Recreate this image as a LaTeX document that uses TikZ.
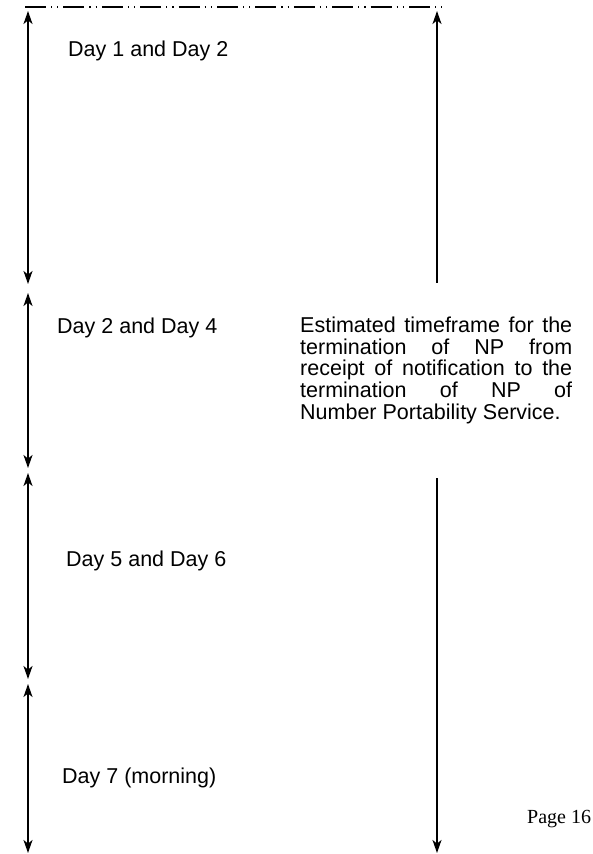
\documentclass[tikz,border=0pt]{standalone}
\usepackage{fontspec}
\setmainfont{Liberation Sans}
\newfontfamily\pagefont{Liberation Serif}
\usetikzlibrary{arrows.meta}

\tikzset{
  tip/.tip={Stealth[length=13pt,width=9pt,inset=3.5pt]},
  span/.style={line width=1.4pt, tip-tip},
  daylabel/.style={anchor=west, inner sep=0pt, font=\fontsize{21.5}{22}\selectfont},
}

\begin{document}
\begin{tikzpicture}
[x = 1pt,
y = -1pt]
\useasboundingbox (0,0) rectangle (592,854);

% cut-off line at the top
\draw[line width=1.5pt, dash pattern=on 21pt off 5pt on 1.2pt off 5pt on 1.2pt off 5pt] (25,7) -- (446,7);

% left column: one double arrow per pair of days
\coordinate (a1) at (28,11);  \coordinate (b1) at (28,284);
\coordinate (a2) at (28,293); \coordinate (b2) at (28,468);
\coordinate (a3) at (28,473); \coordinate (b3) at (28,679);
\coordinate (a4) at (28,684); \coordinate (b4) at (28,853);
\draw[span] (a1) -- (b1);
\draw[span] (a2) -- (b2);
\draw[span] (a3) -- (b3);
\draw[span] (a4) -- (b4);

% right column: whole timeframe
\coordinate (rtop) at (437,11);  \coordinate (rmid1) at (437,283);
\coordinate (rmid2) at (437,478); \coordinate (rbot) at (437,853);
\draw[line width=1.4pt, tip-] (rtop) -- (rmid1);
\draw[line width=1.4pt, -tip] (rmid2) -- (rbot);

\node[daylabel] (d12) at (68,51) {Day 1 and Day 2};
\node[daylabel] (d24) at (57,328) {Day 2 and Day 4};
\node[daylabel] (d56) at (66,561) {Day 5 and Day 6};
\node[daylabel] (d7) at (62,778) {Day 7 (morning)};

\node[anchor=north west, inner sep=0pt, text width=272pt, align=justify,
  font=\fontsize{21.5}{21.6}\selectfont] (np) at (300,317)
  {Estimated timeframe for the\linebreak termination of NP from\linebreak receipt of notification to the\linebreak termination of NP of\linebreak Number Portability Service.};

\node[anchor=west, inner sep=0pt, font=\pagefont\fontsize{20}{22}\selectfont] (pg) at (527,819) {Page 16};
\end{tikzpicture}
\end{document}
